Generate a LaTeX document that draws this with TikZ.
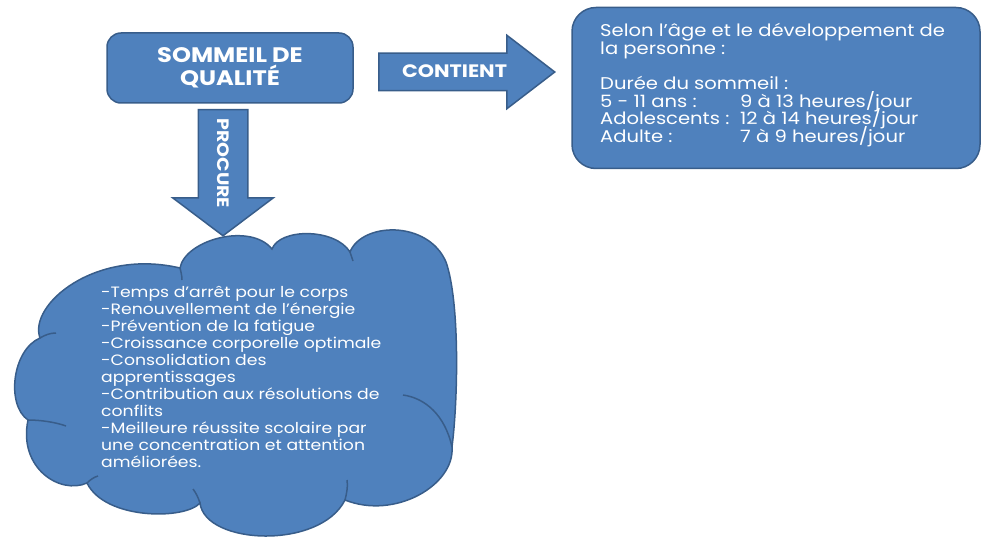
\documentclass[tikz,border=0pt]{standalone}
\usepackage{fontspec}
\setmainfont{Poppins}[FakeStretch=1.15]
\usepackage{tikz}
\usetikzlibrary{shapes}
\usetikzlibrary{shapes.arrows}
\definecolor{bleu}{HTML}{4F81BD}
\definecolor{bord}{HTML}{385D8A}
\setlength{\lineskiplimit}{-20pt}

\begin{document}
\begin{tikzpicture}[x=1pt,y=-1pt,
    forme/.style={draw=bord,line width=1.5pt,fill=bleu,text=white},
    pli/.style={draw=bord,line width=1.5pt},
    fleche/.style={forme,single arrow,inner xsep=0pt,text height=12pt,text depth=0pt,font=\bfseries\fontsize{18}{18}\selectfont},
    texte/.style={text=white,align=left,inner sep=0pt}]
    \useasboundingbox (0,0) rectangle (984,540);
    \node (titre) [forme, rounded corners=14pt, minimum width=246pt, minimum height=70pt, align=center, font=\bfseries\fontsize{21}{23}\selectfont] at (230,68) {SOMMEIL DE\\QUALITÉ};
    \node (contient) [fleche, anchor=tail, inner ysep=12pt, minimum height=176pt, single arrow head extend=18pt, single arrow tip angle=75] at (378,72) {CONTIENT};
    \node (procure) [fleche, anchor=tail, rotate=-90, inner ysep=18pt, minimum height=126pt, single arrow head extend=25.5pt, single arrow tip angle=106, font=\bfseries\fontsize{16.5}{16.5}\selectfont] at (223,109) {PROCURE};
    \node (duree) [forme, rounded corners=24pt, minimum width=408pt, minimum height=161pt] at (776,88) {};
    \node (details) [texte, anchor=north west, font=\fontsize{17}{17.7}\selectfont] at (600,23) {Selon l'âge et le développement de\\la personne :\\[17.7pt]Durée du sommeil :\\
        \makebox[140pt][l]{5 - 11 ans :}9 à 13 heures/jour\\
        \makebox[140pt][l]{Adolescents :}12 à 14 heures/jour\\
        \makebox[140pt][l]{Adulte :}7 à 9 heures/jour};
    % nuage
    \coordinate (l1) at (40,338);
    \coordinate (t1) at (180,268);
    \coordinate (t2) at (272,249);
    \coordinate (t3) at (350,252);
    \coordinate (r0) at (446,262);
    \coordinate (r1) at (452,447);
    \coordinate (b1) at (345,500);
    \coordinate (b2) at (200,503);
    \coordinate (b3) at (87,483);
    \coordinate (l2) at (28,420);
    \path [forme] (l1) .. controls (28,305) and (95,248) .. (t1)
        .. controls (185,240) and (250,222) .. (t2)
        .. controls (280,228) and (335,228) .. (t3)
        .. controls (362,222) and (428,220) .. (r0)
        .. controls (460,302) and (458,400) .. (r1)
        .. controls (455,485) and (395,520) .. (b1)
        .. controls (320,550) and (205,545) .. (b2)
        .. controls (185,520) and (105,520) .. (b3)
        .. controls (60,495) and (18,468) .. (l2)
        .. controls (6,405) and (12,350) .. (l1) -- cycle;
    \draw [pli] (r1) .. controls (445,415) and (425,398) .. (403,395);
    \draw [pli] (b1) .. controls (347,492) and (348,486) .. (347,480);
    \draw [pli] (b2) .. controls (198,497) and (196,493) .. (193,489);
    \draw [pli] (b3) .. controls (90,480) and (94,477) .. (98,476);
    \draw [pli] (l2) .. controls (40,420) and (55,422) .. (66,426);
    \draw [pli] (l1) .. controls (45,335) and (50,333) .. (56,333);
    \draw [pli] (t1) .. controls (181,272) and (182,276) .. (182,280);
    \draw [pli] (t3) .. controls (351,255) and (352,258) .. (353,261);
    \node (bienfaits) [texte, anchor=north west, font=\fontsize{15}{17}\selectfont] at (101,286) {-Temps d'arrêt pour le corps\\-Renouvellement de l'énergie\\-Prévention de la fatigue\\-Croissance corporelle optimale\\-Consolidation des\\apprentissages\\-Contribution aux résolutions de\\conflits\\-Meilleure réussite scolaire par\\une concentration et attention\\améliorées.}; %texte du nuage
\end{tikzpicture}
\end{document}
